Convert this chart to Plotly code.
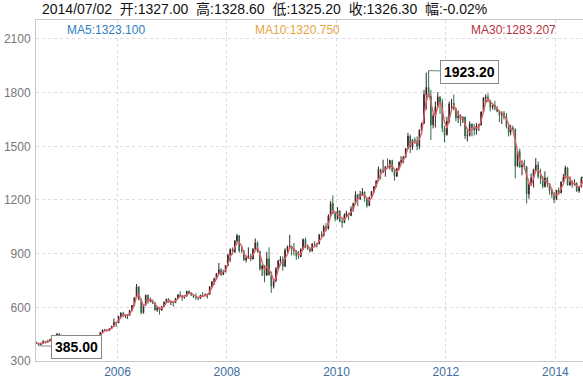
import plotly.graph_objects as go
import pandas as pd

# Half-month candles, July 2004 .. 2 July 2014 (gold, USD/oz)
opens = [
    404, 400, 391, 400, 410, 405, 412, 420, 428, 440, 450, 440,
    438, 424, 424, 420, 435, 440, 428, 428, 435, 422, 418, 438, 437, 422, 430, 440, 433, 460, 473, 473, 470, 482, 495, 515,
    513, 550, 568, 553, 556, 556, 582, 610, 654, 715, 643, 570, 613, 668, 633, 640, 624, 585, 599, 585, 604, 630, 646, 628,
    632, 626, 650, 670, 665, 655, 663, 690, 680, 668, 659, 655, 650, 668, 665, 668, 673, 715, 743, 760, 789, 810, 783, 800,
    834, 890, 923, 910, 971, 1000, 916, 915, 865, 875, 885, 870, 925, 960, 914, 815, 833, 780, 871, 780, 718, 750, 814, 860,
    869, 830, 919, 940, 942, 925, 916, 885, 883, 925, 979, 935, 927, 915, 954, 950, 955, 1005, 1001, 1050, 1040, 1110, 1181, 1125,
    1095, 1140, 1081, 1075, 1116, 1125, 1113, 1150, 1180, 1230, 1207, 1230, 1244, 1210, 1169, 1215, 1248, 1275, 1307, 1370, 1357, 1365, 1386, 1385,
    1421, 1362, 1332, 1375, 1411, 1420, 1439, 1487, 1556, 1495, 1536, 1530, 1500, 1590, 1628, 1790, 1829, 1780, 1620, 1670, 1722, 1775, 1746, 1600,
    1565, 1640, 1737, 1740, 1710, 1660, 1669, 1650, 1664, 1558, 1561, 1625, 1604, 1590, 1614, 1620, 1692, 1770, 1776, 1755, 1719, 1730, 1712, 1695,
    1675, 1685, 1663, 1610, 1578, 1605, 1595, 1390, 1472, 1385, 1393, 1385, 1234, 1285, 1323, 1370, 1396, 1330, 1327, 1275, 1323, 1290, 1250, 1230,
    1202, 1255, 1240, 1300, 1326, 1380, 1283, 1300, 1288, 1295, 1250, 1275, 1327,
]
highs = [
    408, 402, 402, 416, 412, 418, 424, 430, 442, 456, 457, 444,
    440, 428, 426, 438, 445, 442, 432, 438, 436, 424, 442, 443, 438, 432, 442, 447, 462, 477, 478, 477, 484, 496, 538, 520,
    552, 572, 575, 560, 562, 585, 612, 655, 730, 718, 648, 615, 670, 672, 655, 642, 630, 605, 600, 606, 632, 648, 650, 635,
    634, 652, 672, 690, 668, 668, 692, 694, 684, 672, 678, 658, 670, 685, 678, 675, 718, 745, 765, 792, 848, 820, 810, 836,
    900, 930, 935, 975, 1011, 1004, 945, 920, 890, 935, 900, 930, 985, 970, 915, 840, 835, 910, 935, 800, 760, 825, 865, 885,
    885, 930, 945, 1005, 945, 960, 920, 915, 930, 985, 990, 945, 935, 960, 970, 960, 1010, 1025, 1060, 1070, 1120, 1195, 1226, 1130,
    1160, 1142, 1095, 1125, 1140, 1128, 1165, 1185, 1249, 1235, 1250, 1266, 1248, 1215, 1218, 1250, 1278, 1310, 1387, 1375, 1425, 1390, 1432, 1425,
    1425, 1372, 1380, 1415, 1445, 1447, 1490, 1575, 1565, 1540, 1550, 1555, 1595, 1632, 1815, 1912, 1923.2, 1815, 1685, 1750, 1802, 1780, 1765, 1615,
    1665, 1750, 1765, 1790, 1715, 1700, 1680, 1667, 1665, 1600, 1640, 1628, 1625, 1630, 1625, 1695, 1775, 1790, 1796, 1760, 1740, 1755, 1725, 1700,
    1695, 1697, 1685, 1615, 1620, 1616, 1600, 1480, 1488, 1420, 1425, 1390, 1295, 1348, 1375, 1434, 1415, 1375, 1335, 1360, 1330, 1295, 1265, 1245,
    1255, 1270, 1305, 1345, 1392, 1385, 1332, 1310, 1315, 1298, 1275, 1330, 1328.6,
]
lows = [
    395, 385, 389, 398, 398, 403, 410, 417, 426, 438, 430, 434,
    418, 420, 411, 419, 433, 424, 420, 426, 419, 414, 416, 432, 418, 420, 428, 432, 432, 458, 466, 464, 468, 480, 494, 490,
    512, 545, 545, 540, 535, 552, 580, 608, 652, 640, 560, 565, 610, 620, 628, 618, 582, 575, 560, 580, 602, 626, 625, 612,
    603, 624, 648, 660, 636, 648, 660, 675, 664, 652, 642, 640, 648, 660, 662, 650, 670, 712, 725, 755, 785, 775, 780, 795,
    832, 855, 895, 905, 965, 905, 905, 860, 850, 870, 858, 868, 920, 905, 805, 775, 740, 775, 830, 681, 705, 740, 810, 835,
    805, 825, 900, 935, 890, 890, 865, 870, 880, 920, 930, 920, 905, 912, 935, 935, 952, 985, 995, 1025, 1035, 1105, 1120, 1080,
    1090, 1075, 1045, 1070, 1100, 1088, 1110, 1135, 1175, 1165, 1200, 1225, 1190, 1157, 1165, 1210, 1240, 1270, 1305, 1315, 1350, 1330, 1375, 1370,
    1355, 1308, 1330, 1370, 1400, 1405, 1435, 1485, 1462, 1480, 1515, 1478, 1483, 1585, 1625, 1705, 1800, 1535, 1600, 1605, 1715, 1680, 1580, 1523,
    1560, 1630, 1710, 1700, 1640, 1630, 1612, 1630, 1540, 1527, 1555, 1555, 1560, 1565, 1585, 1615, 1685, 1745, 1745, 1695, 1705, 1700, 1690, 1635,
    1625, 1650, 1600, 1555, 1562, 1590, 1321, 1385, 1380, 1338, 1370, 1180, 1208, 1280, 1270, 1360, 1320, 1290, 1265, 1270, 1270, 1230, 1210, 1183,
    1200, 1235, 1238, 1298, 1320, 1282, 1280, 1268, 1280, 1245, 1240, 1270, 1325.2,
]
closes = [
    400, 391, 400, 410, 405, 412, 420, 428, 440, 450, 440, 438,
    424, 424, 420, 435, 440, 428, 428, 435, 422, 418, 438, 437, 422, 430, 440, 433, 460, 473, 473, 470, 482, 495, 515, 513,
    550, 568, 553, 556, 556, 582, 610, 654, 715, 643, 570, 613, 668, 633, 640, 624, 585, 599, 585, 604, 630, 646, 628, 632,
    626, 650, 670, 665, 655, 663, 690, 680, 668, 659, 655, 650, 668, 665, 668, 673, 715, 743, 760, 789, 810, 783, 800, 834,
    890, 923, 910, 971, 1000, 916, 915, 865, 875, 885, 870, 925, 960, 914, 815, 833, 780, 871, 780, 718, 750, 814, 860, 869,
    830, 919, 940, 942, 925, 916, 885, 883, 925, 979, 935, 927, 915, 954, 950, 955, 1005, 1001, 1050, 1040, 1110, 1181, 1125, 1095,
    1140, 1081, 1075, 1116, 1125, 1113, 1150, 1180, 1230, 1207, 1230, 1244, 1210, 1169, 1215, 1248, 1275, 1307, 1370, 1357, 1365, 1386, 1385, 1421,
    1362, 1332, 1375, 1411, 1420, 1439, 1487, 1556, 1495, 1536, 1530, 1500, 1590, 1628, 1790, 1829, 1780, 1620, 1670, 1722, 1775, 1746, 1600, 1565,
    1640, 1737, 1740, 1710, 1660, 1669, 1650, 1664, 1558, 1561, 1625, 1604, 1590, 1614, 1620, 1692, 1770, 1776, 1755, 1719, 1730, 1712, 1695, 1675,
    1685, 1663, 1610, 1578, 1605, 1595, 1390, 1472, 1385, 1393, 1385, 1234, 1285, 1323, 1370, 1396, 1330, 1327, 1275, 1323, 1290, 1250, 1230, 1202,
    1255, 1240, 1300, 1326, 1380, 1283, 1300, 1288, 1295, 1250, 1275, 1322, 1326.3,
]

# dates: middle of each half month, last bar on 2014-07-02
dates = []
y, m = 2004, 7
while len(dates) < len(closes) - 1:
    dates.append(f"{y}-{m:02d}-08")
    dates.append(f"{y}-{m:02d}-23")
    m += 1
    if m > 12:
        m, y = 1, y + 1
dates = dates[:len(closes) - 1] + ["2014-07-02"]

title_text = "2014/07/02  开:1327.00  高:1328.60  低:1325.20  收:1326.30  幅:-0.02%"
ma_labels = ["MA5:1323.100", "MA10:1320.750", "MA30:1283.207"]
tick_years = ["2006", "2008", "2010", "2012", "2014"]
y_ticks = [300, 600, 900, 1200, 1500, 1800, 2100]
peak_label = "1923.20"
low_label = "385.00"

ma = pd.Series(closes).rolling(3, min_periods=1).mean()

fig = go.Figure()
fig.add_trace(go.Candlestick(
    x=dates, open=opens, high=highs, low=lows, close=closes,
    increasing=dict(line=dict(color="#3a2424", width=1), fillcolor="#3a2424"),
    decreasing=dict(line=dict(color="#2e6b45", width=1), fillcolor="#2e6b45"),
    whiskerwidth=0, showlegend=False, hoverinfo="skip",
))
fig.add_trace(go.Scatter(
    x=dates, y=ma, mode="lines", line=dict(color="#e0606a", width=1.4),
    showlegend=False, hoverinfo="skip",
))

peak_i = highs.index(max(highs))
low_i = lows.index(min(lows))
fig.add_annotation(x=dates[peak_i], y=highs[peak_i], text=f"<b>{peak_label}</b>",
                   showarrow=True, arrowhead=0, arrowwidth=1, arrowcolor="#6a8a80",
                   ax=41, ay=1, bgcolor="white", bordercolor="#888", borderwidth=1,
                   borderpad=3, font=dict(family="Liberation Sans, Arial", size=14, color="#000"))
fig.add_annotation(x=dates[low_i], y=lows[low_i], text=f"<b>{low_label}</b>",
                   showarrow=True, arrowhead=0, arrowwidth=1, arrowcolor="#888",
                   ax=38, ay=1, bgcolor="white", bordercolor="#888", borderwidth=1,
                   borderpad=3, font=dict(family="Liberation Sans, Arial", size=14, color="#000"))

fig.add_annotation(xref="paper", yref="paper", x=0.007, y=1, xanchor="left", yanchor="bottom",
                   yshift=1, text=title_text, showarrow=False,
                   font=dict(family="Liberation Sans, Noto Sans CJK SC", size=14, color="#111"))
ma_cols = ["#2f7ebf", "#e8a33d", "#b8333f"]
ma_x = [0.053, 0.397, 0.791]
for lab, col, xx in zip(ma_labels, ma_cols, ma_x):
    fig.add_annotation(xref="paper", yref="paper", x=xx, y=0.97, xanchor="left", yanchor="middle",
                       text=lab, showarrow=False,
                       font=dict(family="Liberation Sans, Arial", size=12, color=col))

fig.update_layout(
    width=583, height=378,
    margin=dict(l=36, r=0, t=20, b=17),
    paper_bgcolor="white", plot_bgcolor="white",
    xaxis=dict(
        type="date", range=["2004-07-06", "2014-07-04"],
        rangeslider=dict(visible=False),
        tickvals=[f"{t}-01-01" for t in tick_years], ticktext=tick_years,
        showgrid=True, gridcolor="#dcdcdc", griddash="dot", gridwidth=1,
        showline=True, linecolor="#c8c8c8", mirror=True, ticks="",
        tickfont=dict(family="Liberation Sans, Arial", size=12, color="#3b6e9e"),
        zeroline=False, ticklabelstandoff=0, automargin=False,
    ),
    yaxis=dict(
        range=[300, 2206], tickvals=y_ticks, ticktext=[str(v) for v in y_ticks],
        showgrid=True, gridcolor="#dcdcdc", griddash="dot", gridwidth=1,
        showline=True, linecolor="#c8c8c8", mirror=True, ticks="",
        tickfont=dict(family="Liberation Sans, Arial", size=12, color="#777"),
        zeroline=False, ticklabelstandoff=2, automargin=False,
    ),
)

fig.write_html("out.html", config={"displayModeBar": False},
               post_script="document.body.style.margin='0';")
